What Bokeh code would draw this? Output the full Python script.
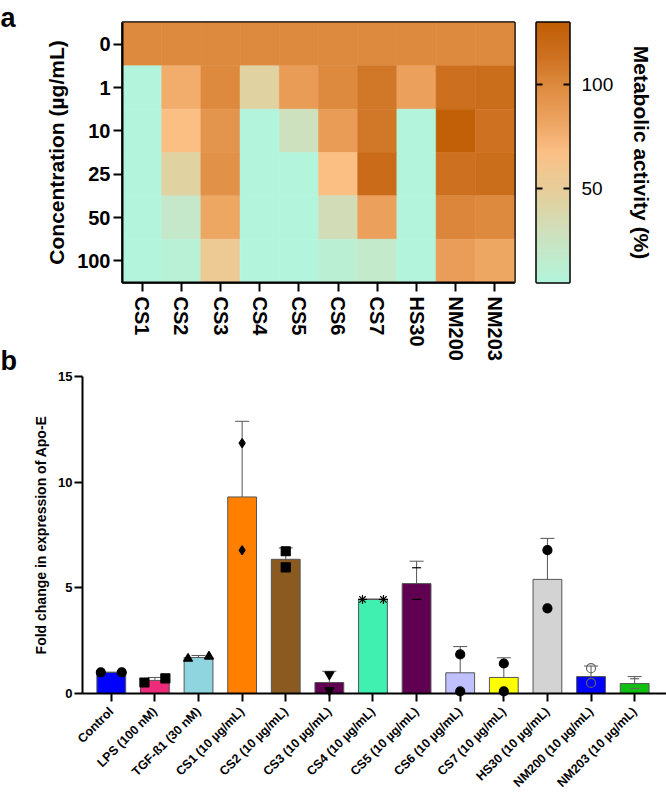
import numpy as np
from bokeh.plotting import figure
from bokeh.models import (FactorRange, Range1d, LinearColorMapper, FixedTicker, LinearAxis,
                          Whisker, TeeHead, ColumnDataSource)
from bokeh.core.properties import value
from bokeh.layouts import column, row
from bokeh.embed import file_html
from bokeh.resources import INLINE

FONT = "Liberation Sans"

# ---------------- panel a data ----------------
samples = ["CS1", "CS2", "CS3", "CS4", "CS5", "CS6", "CS7", "HS30", "NM200", "NM203"]
conc = ["0", "1", "10", "25", "50", "100"]
act_0 = [100, 100, 100, 100, 100, 100, 100, 100, 100, 100]
act_1 = [5, 78, 100, 45, 88, 100, 110, 85, 115, 116]
act_10 = [5, 68, 92, 5, 28, 88, 110, 5, 128, 113]
act_25 = [5, 45, 95, 5, 5, 68, 118, 5, 114, 116]
act_50 = [5, 20, 82, 5, 5, 32, 85, 5, 102, 100]
act_100 = [5, 10, 55, 5, 5, 12, 18, 5, 87, 82]
act_rows = [act_0, act_1, act_10, act_25, act_50, act_100]

cbar_low, cbar_high = 5, 130
cbar_ticks = [50, 100]
cmap_stop_vals = [5, 30, 48, 68, 85, 100, 115, 130]
cmap_stop_cols = ["#b3f5dc", "#d0dfbb", "#e5cf9c", "#fbbf85", "#eba05c", "#dd8a3e", "#cc6f1e", "#c05e05"]

# ---------------- panel b data ----------------
groups = ["Control", "LPS (100 nM)", "TGF-ß1 (30 nM)", "CS1 (10 µg/mL)", "CS2 (10 µg/mL)",
          "CS3 (10 µg/mL)", "CS4 (10 µg/mL)", "CS5 (10 µg/mL)", "CS6 (10 µg/mL)",
          "CS7 (10 µg/mL)", "HS30 (10 µg/mL)", "NM200 (10 µg/mL)", "NM203 (10 µg/mL)"]
means = [1.0, 0.62, 1.7, 9.3, 6.35, 0.52, 4.45, 5.2, 0.98, 0.76, 5.4, 0.8, 0.47]
sds = [0.0, 0.14, 0.1, 3.58, 0.54, 0.53, 0.02, 1.06, 1.24, 0.93, 1.94, 0.5, 0.33]
rep1 = [1.0, 0.52, 1.65, 11.85, 6.73, 0.9, 4.45, 5.95, 1.85, 1.42, 6.78, 1.2, 0.7]
rep2 = [1.0, 0.72, 1.75, 6.78, 5.97, 0.15, 4.45, 4.45, 0.1, 0.1, 4.03, 0.5, 0.24]
bar_colors = ["#0000ff", "#ee2a7b", "#8fd5e0", "#ff8000", "#8b5a20", "#600050", "#40f0b0",
              "#600050", "#c0c0ff", "#ffff00", "#d3d3d3", "#0000ff", "#10c010"]
markers = ["circle", "square", "triangle", "diamond", "square", "inverted_triangle", "asterisk",
           "dash", "circle", "circle", "circle", "circle", "dash"]

panel_letters = ["a", "b"]

# ---------------- colour map ----------------
def _rgb(h):
    return [int(h[i:i + 2], 16) for i in (1, 3, 5)]

grid_vals = np.linspace(cbar_low, cbar_high, 256)
stops_rgb = np.array([_rgb(c) for c in cmap_stop_cols], dtype=float)
palette = []
for v in grid_vals:
    r = np.interp(v, cmap_stop_vals, stops_rgb[:, 0])
    g = np.interp(v, cmap_stop_vals, stops_rgb[:, 1])
    b = np.interp(v, cmap_stop_vals, stops_rgb[:, 2])
    palette.append("#%02x%02x%02x" % (int(round(r)), int(round(g)), int(round(b))))
mapper = LinearColorMapper(palette=palette, low=cbar_low, high=cbar_high)

PAGE_W, PAGE_H = 666, 799
HEAT_H = 363
LET_W = 30

# ---------------- panel letters strip (pixel coordinates, y downwards) ----------------
let = figure(width=LET_W, height=PAGE_H, x_range=Range1d(0, LET_W), y_range=Range1d(PAGE_H, 0),
             x_axis_location=None, y_axis_location=None, output_backend="svg",
             toolbar_location=None, min_border=0)
let.outline_line_color = None
let.grid.visible = False
let.text(x=[0, 0], y=[17, 360], text=panel_letters, text_font=value(FONT),
         text_font_style="bold", text_font_size="27px", text_baseline="alphabetic",
         text_color="black")

# ---------------- heatmap ----------------
hx, hy, hv = [], [], []
for c, vals in zip(conc, act_rows):
    for s, v in zip(samples, vals):
        hx.append(s)
        hy.append(c)
        hv.append(v)
hsrc = ColumnDataSource(dict(x=hx, y=hy, v=hv))

heat = figure(width=524 - LET_W, height=HEAT_H, x_range=FactorRange(*samples),
              y_range=FactorRange(*conc[::-1]), output_backend="svg", toolbar_location=None,
              min_border_left=122 - LET_W, min_border_right=10, min_border_top=22,
              min_border_bottom=80)
heat.rect("x", "y", 1, 1, source=hsrc, fill_color={"field": "v", "transform": mapper},
          line_color={"field": "v", "transform": mapper}, line_width=0.6)
heat.outline_line_color = "black"
heat.outline_line_width = 2.5
heat.grid.visible = False
for ax in heat.axis:
    ax.axis_line_width = 2
    ax.axis_line_color = "black"
    ax.major_tick_line_width = 2
    ax.major_tick_line_color = "black"
    ax.major_tick_out = 9
    ax.major_tick_in = 0
    ax.major_label_text_font = FONT
    ax.major_label_text_font_style = "bold"
    ax.major_label_text_font_size = "20px"
    ax.major_label_text_color = "black"
    ax.axis_label_text_font = FONT
    ax.axis_label_text_font_style = "bold"
    ax.axis_label_text_font_size = "21px"
    ax.axis_label_text_color = "black"
heat.xaxis.major_label_orientation = "vertical"
heat.xaxis.major_label_standoff = 5
heat.yaxis.major_label_standoff = 3
heat.yaxis.axis_label = "Concentration (µg/mL)"
heat.yaxis.axis_label_standoff = 6

# ---------------- colour bar ----------------
cb = figure(width=142, height=HEAT_H, x_range=Range1d(0, 1), y_range=Range1d(cbar_low, cbar_high),
            y_axis_location="right", x_axis_location=None, output_backend="svg",
            toolbar_location=None, min_border_left=12, min_border_right=97,
            min_border_top=22, min_border_bottom=80)
grad = grid_vals.reshape(-1, 1)
cb.image(image=[grad], x=0, y=cbar_low, dw=1, dh=cbar_high - cbar_low, color_mapper=mapper)
cb.grid.visible = False
cb.outline_line_color = "black"
cb.outline_line_width = 2.5
ya = cb.yaxis[0]
ya.ticker = FixedTicker(ticks=cbar_ticks)
ya.major_tick_in = 6
ya.major_tick_out = 0
ya.major_tick_line_width = 2
ya.major_tick_line_color = "black"
ya.minor_tick_line_color = None
ya.axis_line_color = None
ya.major_label_standoff = 12
ya.major_label_text_font = FONT
ya.major_label_text_font_size = "19px"
ya.major_label_text_color = "black"
ya.axis_label = "Metabolic activity (%)"
ya.axis_label_text_font = FONT
ya.axis_label_text_font_style = "bold"
ya.axis_label_text_font_size = "21px"
ya.axis_label_text_color = "black"
ya.axis_label_standoff = 14
la = LinearAxis(ticker=FixedTicker(ticks=cbar_ticks),
                major_label_overrides={t: "" for t in cbar_ticks},
                major_tick_in=6, major_tick_out=0, major_tick_line_width=2,
                major_tick_line_color="black", minor_tick_line_color=None,
                axis_line_color=None, major_label_standoff=0)
cb.add_layout(la, "left")

# ---------------- bar chart ----------------
idx = list(range(len(groups)))
bars = figure(width=PAGE_W - LET_W, height=PAGE_H - HEAT_H, x_range=Range1d(-0.66, 12.73),
              y_range=Range1d(0, 15), output_backend="svg", toolbar_location=None,
              min_border_left=80 - LET_W, min_border_right=0, min_border_top=13,
              min_border_bottom=106)
bars.outline_line_color = None
bars.grid.visible = False
bars.vbar(x=idx, top=means, width=0.66, fill_color=bar_colors, line_color="#555555",
          line_width=1)

esrc = ColumnDataSource(dict(base=idx, upper=[m + s for m, s in zip(means, sds)],
                             lower=[m - s for m, s in zip(means, sds)]))
bars.add_layout(Whisker(source=esrc, base="base", upper="upper", lower="lower",
                        line_color="#555555", line_width=1,
                        upper_head=TeeHead(size=14, line_color="#555555", line_width=1),
                        lower_head=TeeHead(size=14, line_color="#555555", line_width=1)))

px, py, pm, pf, pl = [], [], [], [], []
for i, (a, b) in enumerate(zip(rep1, rep2)):
    off = 0.24 if abs(a - b) < 0.3 else 0.0
    for sgn, v in ((-1, a), (1, b)):
        px.append(i + sgn * off)
        py.append(v)
        pm.append(markers[i])
        open_marker = groups[i].startswith("NM200")
        pf.append(0.0 if open_marker else 1.0)
        pl.append("#666666" if (open_marker or i == 12) else "black")
psrc = ColumnDataSource(dict(x=px, y=py, m=pm, fa=pf, lc=pl))
bars.scatter("x", "y", marker="m", source=psrc, size=9, fill_color="black", fill_alpha="fa",
             line_color="lc", line_width=1.2, level="overlay")

bars.xaxis.ticker = FixedTicker(ticks=idx)
bars.xaxis.major_label_overrides = {i: g for i, g in zip(idx, groups)}
bars.xaxis.major_label_orientation = np.pi / 4
bars.yaxis.ticker = FixedTicker(ticks=[0, 5, 10, 15])
for ax in bars.axis:
    ax.axis_line_width = 2
    ax.axis_line_color = "black"
    ax.major_tick_line_width = 2
    ax.major_tick_line_color = "black"
    ax.major_tick_out = 8
    ax.major_tick_in = 0
    ax.minor_tick_line_color = None
    ax.major_label_text_font = FONT
    ax.major_label_text_font_style = "bold"
    ax.major_label_text_font_size = "12.5px"
    ax.major_label_text_color = "black"
    ax.axis_label_text_font = FONT
    ax.axis_label_text_font_style = "bold"
    ax.axis_label_text_font_size = "14px"
    ax.axis_label_text_color = "black"
bars.xaxis.major_label_standoff = 8
bars.yaxis.major_label_standoff = 2
bars.yaxis.major_label_text_font_size = "13px"
bars.yaxis.axis_label = "Fold change in expression of Apo-E"
bars.yaxis.axis_label_standoff = 6

layout = row(let, column(row(heat, cb), bars))
open("out.html", "w").write(file_html(layout, INLINE))
